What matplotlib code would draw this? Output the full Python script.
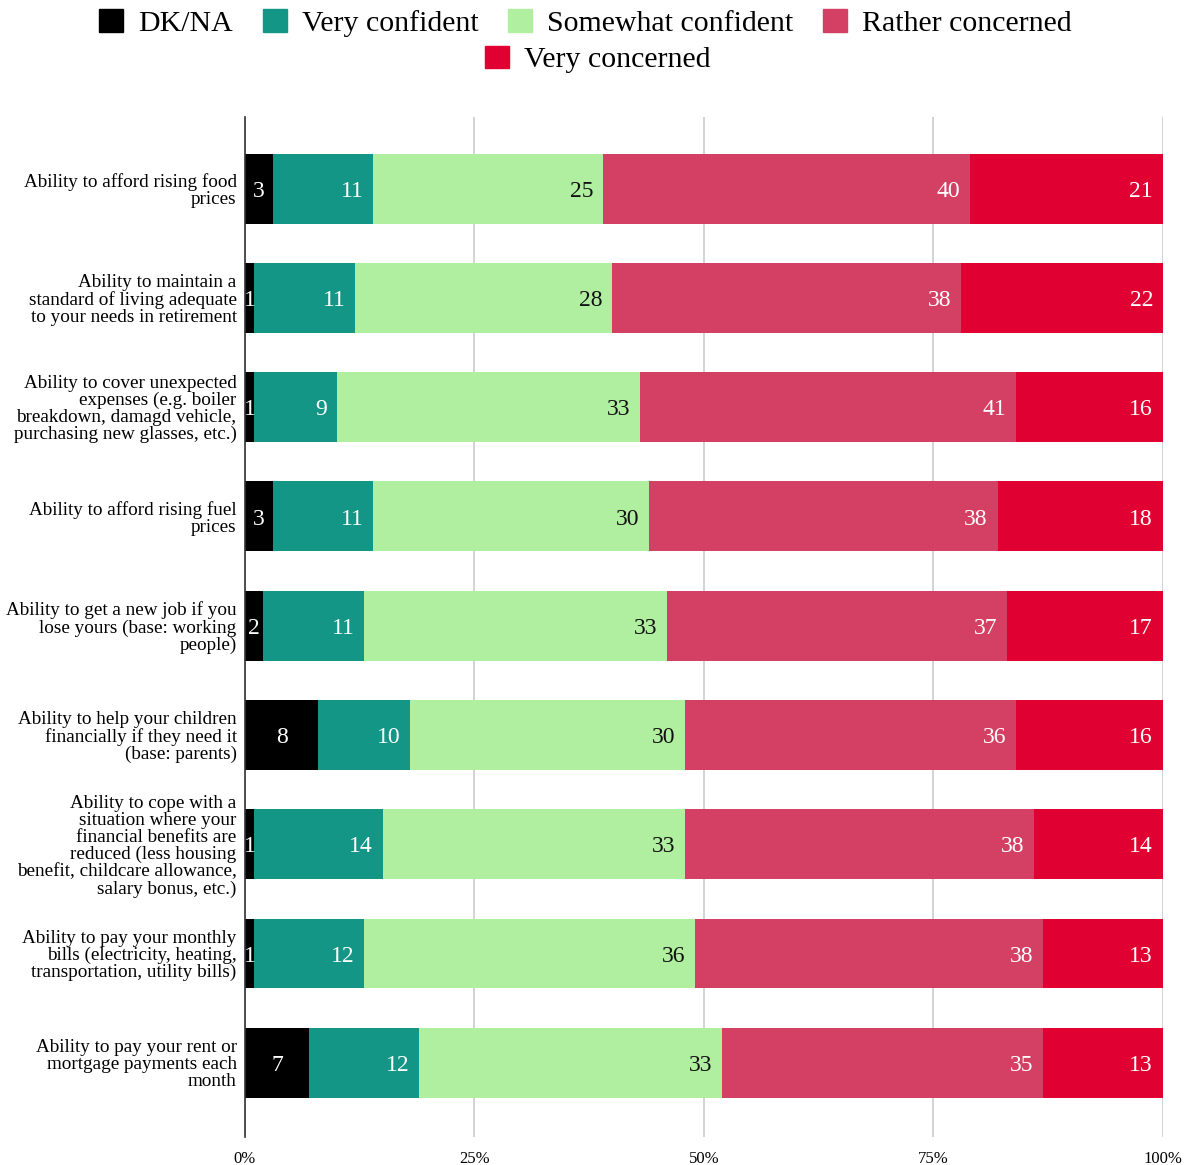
import matplotlib.pyplot as plt
import numpy as np
from matplotlib.patches import Patch

plt.rcParams['font.family'] = ['Liberation Serif', 'DejaVu Serif']

categories = [
    'Ability to afford rising food\nprices',
    'Ability to maintain a\nstandard of living adequate\nto your needs in retirement',
    'Ability to cover unexpected\nexpenses (e.g. boiler\nbreakdown, damagd vehicle,\npurchasing new glasses, etc.)',
    'Ability to afford rising fuel\nprices',
    'Ability to get a new job if you\nlose yours (base: working\npeople)',
    'Ability to help your children\nfinancially if they need it\n(base: parents)',
    'Ability to cope with a\nsituation where your\nfinancial benefits are\nreduced (less housing\nbenefit, childcare allowance,\nsalary bonus, etc.)',
    'Ability to pay your monthly\nbills (electricity, heating,\ntransportation, utility bills)',
    'Ability to pay your rent or\nmortgage payments each\nmonth',
]

series_names = ['DK/NA', 'Very confident', 'Somewhat confident', 'Rather concerned', 'Very concerned']
dk_na = [3, 1, 1, 3, 2, 8, 1, 1, 7]
very_confident = [11, 11, 9, 11, 11, 10, 14, 12, 12]
somewhat_confident = [25, 28, 33, 30, 33, 30, 33, 36, 33]
rather_concerned = [40, 38, 41, 38, 37, 36, 38, 38, 35]
very_concerned = [21, 22, 16, 18, 17, 16, 14, 13, 13]

colors = ['#000000', '#149687', '#b0eea0', '#d44063', '#e00031']
label_colors = ['white', 'white', '#111111', 'white', 'white']

fig = plt.figure(figsize=(11.95, 11.65), dpi=100)
ax = fig.add_axes([0.205, 0.024, 0.768, 0.876])

y = np.arange(len(categories))
left = np.zeros(len(categories))
all_series = [dk_na, very_confident, somewhat_confident, rather_concerned, very_concerned]
for i, vals in enumerate(all_series):
    vals = np.array(vals)
    ax.barh(y, vals, left=left, height=0.64, color=colors[i], zorder=3)
    for j, v in enumerate(vals):
        if i == 0:
            # DK/NA labels sit in the middle of the black segment
            ax.annotate(str(v), xy=(left[j] + v / 2, y[j]), xytext=(0, -2),
                        textcoords='offset points', ha='center', va='center',
                        color=label_colors[i], fontsize=17, zorder=4)
        else:
            ax.annotate(str(v), xy=(left[j] + v, y[j]), xytext=(-7, -2),
                        textcoords='offset points', ha='right', va='center',
                        color=label_colors[i], fontsize=17, zorder=4)
    left += vals

ax.set_xlim(0, 100)
ax.set_ylim(len(categories) - 0.5 + 0.18, -0.5 - 0.16)
ax.set_yticks(y)
ax.set_yticklabels(categories, fontsize=13.8, linespacing=1.0)
ax.set_xticks([0, 25, 50, 75, 100])
ax.set_xticklabels(['0%', '25%', '50%', '75%', '100%'], fontsize=12)
ax.tick_params(axis='y', length=0, pad=6)
ax.tick_params(axis='x', length=0, pad=10)
ax.grid(axis='x', color='#cccccc', linewidth=1.2, zorder=0)
for s in ['top', 'right', 'bottom']:
    ax.spines[s].set_visible(False)
ax.spines['left'].set_color('#333333')
ax.spines['left'].set_linewidth(1.2)
ax.spines['left'].set_zorder(5)

handles = [Patch(color=c) for c in colors]
fig.legend(handles[:4], series_names[:4], loc='center', bbox_to_anchor=(0.49, 0.980),
           ncol=4, frameon=False, fontsize=21.5, handlelength=0.8, handleheight=0.8,
           columnspacing=1.0, handletextpad=0.5)
fig.legend(handles[4:], series_names[4:], loc='center', bbox_to_anchor=(0.5, 0.949),
           ncol=1, frameon=False, fontsize=21.5, handlelength=0.8, handleheight=0.8,
           handletextpad=0.5)

fig.savefig('out.png', dpi=100)
